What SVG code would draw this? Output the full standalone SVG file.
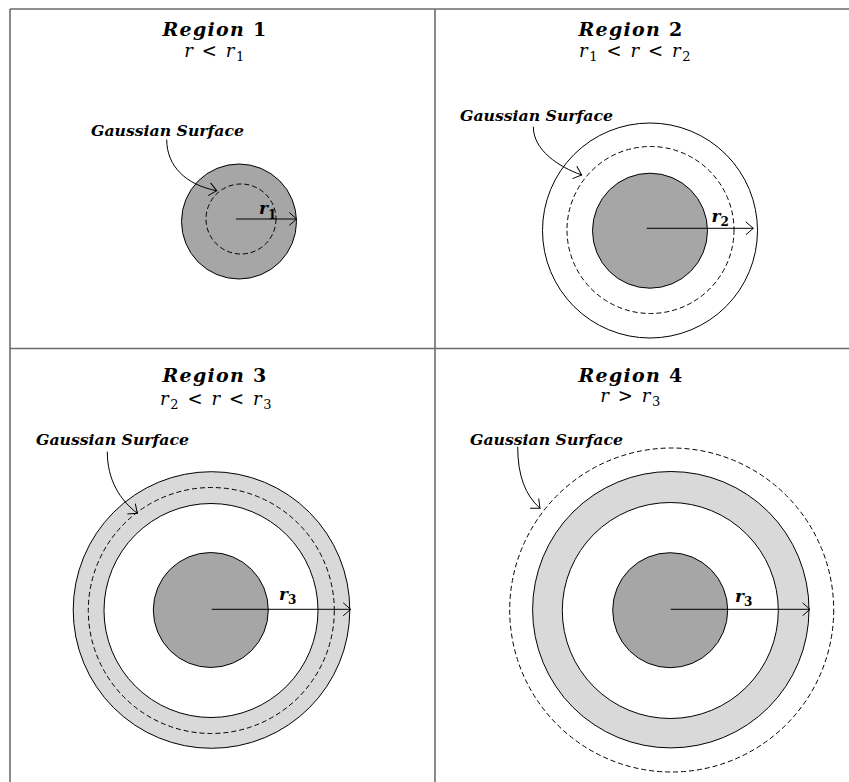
<svg xmlns="http://www.w3.org/2000/svg" width="849" height="782" viewBox="0 0 849 782">
<style>
  .frame{stroke:#6b6b6b;stroke-width:1.6;fill:none}
  .core{fill:#a6a6a6;stroke:#000;stroke-width:1}
  .shell{fill:#d9d9d9;stroke:#000;stroke-width:1}
  .hole{fill:#fff;stroke:#000;stroke-width:1}
  .dash{fill:none;stroke:#000;stroke-width:1;stroke-dasharray:5 3}
  .title{font-family:"DejaVu Serif","Liberation Serif",serif;font-size:19px;font-weight:bold;letter-spacing:1.3px;fill:#000}
  .sub{font-family:"DejaVu Serif","Liberation Serif",serif;font-size:18px;letter-spacing:1.6px;fill:#000}
  .gs{font-family:"DejaVu Serif","Liberation Serif",serif;font-size:15px;font-weight:bold;font-style:italic;fill:#000}
  .rl{font-family:"DejaVu Serif","Liberation Serif",serif;font-size:17px;font-weight:bold;font-style:italic;fill:#000}
  .arr{fill:none;stroke:#000;stroke-width:1;marker-end:url(#open)}
</style>
<defs>
  <marker id="open" viewBox="0 0 9 14" refX="8" refY="7" markerWidth="9" markerHeight="14" markerUnits="userSpaceOnUse" orient="auto">
    <path d="M0.5,0.5 L8,7 L0.5,13.5" fill="none" stroke="#000" stroke-width="1"/>
  </marker>
</defs>
<rect width="849" height="782" fill="#fff"/>
<g id="frame">
  <line class="frame" x1="10" y1="9" x2="849" y2="9"/>
  <line class="frame" x1="10" y1="9" x2="10" y2="782"/>
  <line class="frame" x1="435" y1="9" x2="435" y2="782"/>
  <line class="frame" x1="10" y1="348.5" x2="849" y2="348.5"/>
</g>

<g id="region1">
  <text class="title" x="215" y="36" text-anchor="middle"><tspan font-style="italic">Region</tspan> 1</text>
  <text class="sub" x="215" y="57" text-anchor="middle"><tspan font-style="italic">r</tspan> &lt; <tspan font-style="italic">r</tspan><tspan font-size="13" dy="4">1</tspan></text>
  <text class="gs" x="91" y="136" textLength="153" lengthAdjust="spacingAndGlyphs">Gaussian Surface</text>
  <circle class="core" cx="239" cy="221.5" r="57.5"/>
  <circle class="dash" cx="241" cy="219" r="35"/>
  <text class="rl" x="259" y="214">r<tspan font-size="12" font-style="normal" dy="5">1</tspan></text>
</g>

<g id="region2">
  <text class="title" x="631" y="36" text-anchor="middle"><tspan font-style="italic">Region</tspan> 2</text>
  <text class="sub" x="635.5" y="57" text-anchor="middle"><tspan font-style="italic">r</tspan><tspan font-size="13" dy="4">1</tspan><tspan dy="-4"> &lt; </tspan><tspan font-style="italic">r</tspan> &lt; <tspan font-style="italic">r</tspan><tspan font-size="13" dy="4">2</tspan></text>
  <text class="gs" x="460" y="121" textLength="153" lengthAdjust="spacingAndGlyphs">Gaussian Surface</text>
  <circle class="hole" cx="650" cy="230.5" r="107.5"/>
  <circle class="dash" cx="650.5" cy="230" r="83.5"/>
  <circle class="core" cx="650" cy="230.7" r="57.5"/>
  <text class="rl" x="711.5" y="222">r<tspan font-size="12" font-style="normal" dy="4">2</tspan></text>
</g>

<g id="region3">
  <text class="title" x="215" y="382" text-anchor="middle"><tspan font-style="italic">Region</tspan> 3</text>
  <text class="sub" x="216.5" y="405" text-anchor="middle"><tspan font-style="italic">r</tspan><tspan font-size="13" dy="4">2</tspan><tspan dy="-4"> &lt; </tspan><tspan font-style="italic">r</tspan> &lt; <tspan font-style="italic">r</tspan><tspan font-size="13" dy="4">3</tspan></text>
  <text class="gs" x="36" y="445" textLength="153" lengthAdjust="spacingAndGlyphs">Gaussian Surface</text>
  <circle class="shell" cx="211.5" cy="610" r="138.3"/>
  <circle class="dash" cx="211.3" cy="610.5" r="123"/>
  <circle class="hole" cx="211" cy="610.5" r="107"/>
  <circle class="core" cx="210.8" cy="610" r="57.5"/>
  <text class="rl" x="279" y="600">r<tspan font-size="12" font-style="normal" dy="4">3</tspan></text>
</g>

<g id="region4">
  <text class="title" x="631" y="382" text-anchor="middle"><tspan font-style="italic">Region</tspan> 4</text>
  <text class="sub" x="631" y="402" text-anchor="middle"><tspan font-style="italic">r</tspan> &gt; <tspan font-style="italic">r</tspan><tspan font-size="13" dy="4">3</tspan></text>
  <text class="gs" x="470" y="444.5" textLength="153" lengthAdjust="spacingAndGlyphs">Gaussian Surface</text>
  <circle class="dash" cx="671.7" cy="610" r="162"/>
  <circle class="shell" cx="670.8" cy="609.7" r="138.2"/>
  <circle class="hole" cx="670.3" cy="610.5" r="108"/>
  <circle class="core" cx="670.2" cy="610.2" r="57.5"/>
  <text class="rl" x="735" y="602">r<tspan font-size="12" font-style="normal" dy="4">3</tspan></text>
</g>

<g id="connectors">
  <path class="arr" d="M166.7,139.5 C166.7,166.7 186.7,185 216.7,190.7"/>
  <line class="arr" x1="236" y1="219" x2="296.7" y2="219"/>
  <path class="arr" d="M533.3,126.7 C533.3,150 558.3,166.7 581.7,175"/>
  <line class="arr" x1="646.7" y1="228.3" x2="753.3" y2="228.3"/>
  <path class="arr" d="M107.3,451.7 C107.3,480 120,500 137.3,513.3"/>
  <line class="arr" x1="211.7" y1="609.3" x2="350.7" y2="609.3"/>
  <path class="arr" d="M517.7,446.7 C517.7,475 525,495 540,508.3"/>
  <line class="arr" x1="670.7" y1="609.3" x2="810" y2="609.3"/>
</g>
</svg>
